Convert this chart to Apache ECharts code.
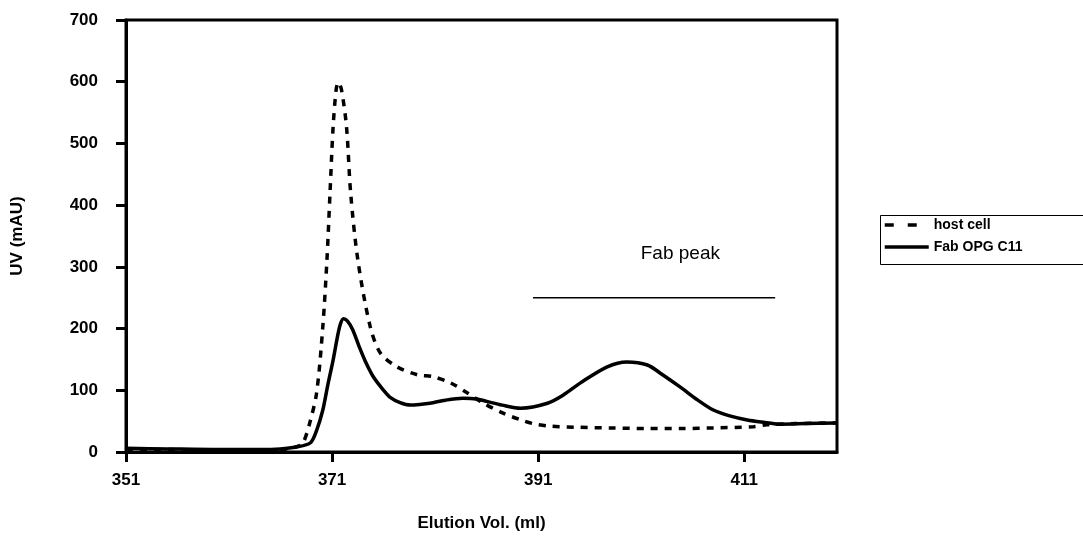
<!DOCTYPE html>
<html><head><meta charset="utf-8">
<script src="https://cdn.jsdelivr.net/npm/echarts@6/dist/echarts.min.js"></script>
<style>html,body{margin:0;padding:0;background:#fff}#c{width:1083px;height:537px}</style>
</head><body><div id="c"></div>
<script>
// ---- data ----
const xTicks = [351, 371, 391, 411];
const yTicks = [0, 100, 200, 300, 400, 500, 600, 700];
const seriesNames = ['host cell', 'Fab OPG C11'];

const hostX = [351, 355, 360, 364, 366, 367, 367.8, 368.2, 368.8, 369.5, 370.1, 370.5, 370.8, 371.1, 371.4, 371.6, 371.9, 372.4, 372.8, 373.5, 374.7, 375.7, 377.3, 379.3, 380.8, 382.5, 384.1, 385.7, 387.6, 389.3, 390.5, 392, 395, 398, 401.6, 405, 408, 411.9, 413.2, 416, 420];
const hostY = [4, 4, 3, 3, 4, 6, 10, 15, 45, 96, 203, 311, 420, 527, 588, 599, 588, 527, 420, 311, 203, 160, 138, 125, 122, 112, 96, 79, 63, 52, 46, 42, 40, 39, 38, 38, 39, 41, 44, 46, 47];

const fabX = [351, 355, 360, 364, 366, 367.5, 368.9, 369.5, 370.1, 370.6, 371.1, 371.5, 371.8, 372.1, 372.5, 373, 373.6, 374.2, 375, 376, 376.6, 377.6, 378.6, 379.5, 380.5, 382, 383.7, 385, 386, 387.5, 389.3, 391.9, 393.5, 395.1, 397.7, 399.6, 401.6, 403, 404.8, 406.5, 408, 409.5, 411.3, 413, 414.5, 417, 420];
const fabY = [6, 5, 4, 4, 5, 8, 15, 35, 68, 110, 149, 185, 207, 216, 212, 198, 172, 148, 122, 100, 89, 80, 76, 77, 79, 84, 87, 86, 82, 76, 71, 79, 93, 112, 138, 146, 141, 126, 105, 84, 68, 59, 52, 48, 45, 46, 47];

const peakBarX = [390.5, 414];
const peakBarY = [250, 250];
const peakLabelX = 404.8;
const peakLabelY = 322;
const peakLabelText = 'Fab peak';

// ---- build ----
const zip = (xs, ys) => xs.map((x, i) => [x, ys[i]]);
const FONT = '"Liberation Sans", Arial, sans-serif';

const chart = echarts.init(document.getElementById('c'), null, {renderer: 'canvas'});
chart.setOption({
  animation: false,
  backgroundColor: '#fff',
  grid: {left: 126, right: 246, top: 20, bottom: 85, show: true, borderColor: '#000', borderWidth: 3, containLabel: false},
  xAxis: {
    type: 'value', min: 351, max: 420,
    name: 'Elution Vol. (ml)', nameLocation: 'middle', nameGap: 63,
    nameTextStyle: {fontFamily: FONT, fontWeight: 'bold', fontSize: 17, color: '#000'},
    axisLine: {show: true, lineStyle: {color: '#000', width: 3}},
    axisTick: {show: true, inside: false, length: 10, lineStyle: {color: '#000', width: 3}, customValues: xTicks},
    axisLabel: {show: true, margin: 20, customValues: xTicks, fontFamily: FONT, fontWeight: 'bold', fontSize: 17, color: '#000'},
    splitLine: {show: false}
  },
  yAxis: {
    type: 'value', min: 0, max: 700, interval: 100,
    name: 'UV (mAU)', nameLocation: 'middle', nameGap: 100,
    nameTextStyle: {fontFamily: FONT, fontWeight: 'bold', fontSize: 17, color: '#000'},
    axisLine: {show: true, lineStyle: {color: '#000', width: 3}},
    axisTick: {show: true, inside: false, length: 10, lineStyle: {color: '#000', width: 3}, customValues: yTicks},
    axisLabel: {show: true, margin: 28, customValues: yTicks, fontFamily: FONT, fontWeight: 'bold', fontSize: 17, color: '#000'},
    splitLine: {show: false}
  },
  legend: {
    data: [
      {name: seriesNames[0], lineStyle: {width: 3.5, type: [9, 14], color: '#000'}},
      {name: seriesNames[1], lineStyle: {width: 3.5, type: 'solid', color: '#000'}}
    ],
    orient: 'vertical', left: 883, top: 218, padding: 0,
    itemWidth: 44, itemHeight: 14, itemGap: 8,
    itemStyle: {opacity: 0},
    textStyle: {fontFamily: FONT, fontWeight: 'bold', fontSize: 14, color: '#000'}
  },
  graphic: [{
    type: 'rect', left: 878, top: 213, z: 100,
    shape: {width: 220, height: 49},
    style: {fill: 'none', stroke: '#000', lineWidth: 1}
  }],
  series: [
    {name: seriesNames[0], type: 'line', data: zip(hostX, hostY), showSymbol: false, symbol: 'none', smooth: 0.3,
     lineStyle: {color: '#000', width: 3.5, type: [7, 7]}, itemStyle: {color: '#000'}, z: 3},
    {name: seriesNames[1], type: 'line', data: zip(fabX, fabY), showSymbol: false, symbol: 'none', smooth: 0.3,
     lineStyle: {color: '#000', width: 3.5, type: 'solid'}, itemStyle: {color: '#000'}, z: 4},
    {name: 'peakbar', type: 'line', data: zip(peakBarX, peakBarY), symbol: 'none', silent: true,
     lineStyle: {color: '#000', width: 1.5}},
    {name: 'peaklabel', type: 'scatter', data: [[peakLabelX, peakLabelY]], symbolSize: 1, silent: true,
     itemStyle: {color: 'rgba(0,0,0,0)'},
     label: {show: true, position: 'inside', formatter: peakLabelText, fontFamily: FONT, fontSize: 19,
             color: '#000', textBorderWidth: 0, opacity: 1}}
  ]
});
</script></body></html>
